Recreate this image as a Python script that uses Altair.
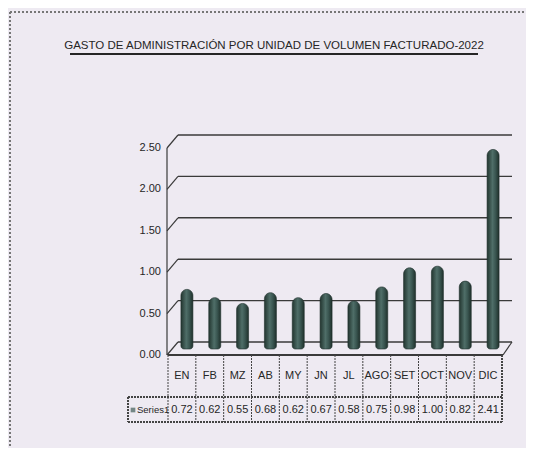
import altair as alt
import pandas as pd

# ---- data ----
months = ["EN", "FB", "MZ", "AB", "MY", "JN", "JL", "AGO", "SET", "OCT", "NOV", "DIC"]
values = [0.72, 0.62, 0.55, 0.68, 0.62, 0.67, 0.58, 0.75, 0.98, 1.00, 0.82, 2.41]
y_ticks = [0.0, 0.5, 1.0, 1.5, 2.0, 2.5]
title_text = ["GASTO DE ADMINISTRACIÓN POR UNIDAD DE VOLUMEN FACTURADO-2022"]
series_name = ["Series1"]

df = pd.DataFrame({"mes": months, "valor": values})
df["lab"] = [f"{v:.2f}" for v in values]
ticks = pd.DataFrame({"valor": y_ticks, "lab": [f"{v:.2f}" for v in y_ticks]})

FONT = "Liberation Sans, Arial, sans-serif"
INK = "#262626"
LINE = "#3a3a3a"
DEPTH = -13

xs = alt.Scale(domain=months, range=[160, 494], paddingInner=0, paddingOuter=0)
ys = alt.Scale(domain=[0, 2.5], range=[347, 140], nice=False, zero=True)

def X(field="mes:N", **kw):
    return alt.X(field, scale=xs, axis=None, sort=months, **kw)

def Y(field="valor:Q"):
    return alt.Y(field, scale=ys, axis=None)

base = alt.Chart(df)
tbase = alt.Chart(ticks)

# page border (dashed, top and left)
border_top = base.mark_rule(color="#777", strokeDash=[2, 2], strokeWidth=1).encode(
    x=alt.value(2), x2=alt.value(526), y=alt.value(4))
border_left = base.mark_rule(color="#777", strokeDash=[2, 2], strokeWidth=1).encode(
    x=alt.value(2), y=alt.value(4), y2=alt.value(448))

# title + underline
title = alt.Chart(pd.DataFrame({"t": title_text})).mark_text(
    font=FONT, fontSize=11.5, color=INK, align="center", baseline="middle"
).encode(text="t:N", x=alt.value(266), y=alt.value(38))
underline = base.mark_rule(color=INK, strokeWidth=1.2).encode(
    x=alt.value(62), x2=alt.value(470), y=alt.value(46))

# 3D gridlines (back wall) and left diagonals
grid = tbase.mark_rule(color=LINE, strokeWidth=1.4, yOffset=DEPTH).encode(
    y=Y(), x=alt.value(170), x2=alt.value(504))
diag = tbase.mark_rule(color=LINE, strokeWidth=1.2, y2Offset=DEPTH).encode(
    y=Y(), y2=alt.Y2("valor:Q"), x=alt.value(159), x2=alt.value(170))
floor_right = tbase.transform_filter("datum.valor == 0").mark_rule(
    color=LINE, strokeWidth=1.2, y2Offset=DEPTH).encode(
    y=Y(), y2=alt.Y2("valor:Q"), x=alt.value(495), x2=alt.value(504))
yaxis = tbase.transform_filter("datum.valor == 0").mark_rule(color=LINE, strokeWidth=1.2).encode(
    x=alt.value(159), y=Y(), y2=alt.Y2(datum=2.5))

# y labels
ylabels = tbase.mark_text(font=FONT, fontSize=11, color=INK, align="right",
                          baseline="middle").encode(
    y=Y(), x=alt.value(153), text="lab:N")

# cylinder-like bars
grad = alt.Gradient(
    gradient="linear", x1=0, x2=1, y1=0, y2=0,
    stops=[alt.GradientStop(color="#22352f", offset=0),
           alt.GradientStop(color="#4f6e68", offset=0.45),
           alt.GradientStop(color="#3a5651", offset=0.7),
           alt.GradientStop(color="#1f302b", offset=1)])
bars = base.mark_bar(width=12, color=grad, xOffset=5, yOffset=-6, y2Offset=-6,
                     cornerRadiusTopLeft=6, cornerRadiusTopRight=6,
                     cornerRadiusBottomLeft=3, cornerRadiusBottomRight=3,
                     stroke="#1f2f2c", strokeWidth=0.6).encode(
    x=X(), y=Y(), y2=alt.Y2(datum=0))

# data table
tcol = "#444"
t_top = base.mark_rule(color=LINE, strokeWidth=1.2).encode(
    x=alt.value(160), x2=alt.value(495), y=alt.value(347))
t_mid = base.mark_rule(color=tcol, strokeWidth=1, strokeDash=[2, 1]).encode(
    x=alt.value(120), x2=alt.value(495), y=alt.value(389))
t_bot = base.mark_rule(color=tcol, strokeWidth=1, strokeDash=[2, 1]).encode(
    x=alt.value(120), x2=alt.value(495), y=alt.value(414))
t_vert = base.mark_rule(color=tcol, strokeWidth=1, strokeDash=[2, 1]).encode(
    x=X(bandPosition=0), y=alt.value(347), y2=alt.value(414))
t_right = base.mark_rule(color=tcol, strokeWidth=1, strokeDash=[2, 1]).encode(
    x=alt.value(494), y=alt.value(347), y2=alt.value(414))
t_left = base.mark_rule(color=tcol, strokeWidth=1, strokeDash=[2, 1]).encode(
    x=alt.value(120), y=alt.value(389), y2=alt.value(414))
t_head = base.mark_text(font=FONT, fontSize=11, color=INK, baseline="middle").encode(
    x=X(), text="mes:N", y=alt.value(368))
t_vals = base.mark_text(font=FONT, fontSize=11, color=INK, baseline="middle").encode(
    x=X(), text="lab:N", y=alt.value(402))
s_key = alt.Chart(pd.DataFrame({"s": series_name})).mark_square(
    size=22, color="#3e5b57", filled=True).encode(x=alt.value(125), y=alt.value(402))
s_lab = alt.Chart(pd.DataFrame({"s": series_name})).mark_text(
    font=FONT, fontSize=9.5, color=INK, align="left", baseline="middle").encode(
    text="s:N", x=alt.value(129), y=alt.value(402))

chart = alt.layer(
    border_top, border_left, title, underline,
    grid, diag, floor_right, yaxis, ylabels, bars,
    t_top, t_mid, t_bot, t_vert, t_right, t_left, t_head, t_vals, s_key, s_lab
).properties(
    width=518, height=440, autosize="none", padding=0, background="#eeeaf2"
).configure_view(stroke=None)

chart.save("out.html", embed_options={"renderer": "svg", "actions": False})
